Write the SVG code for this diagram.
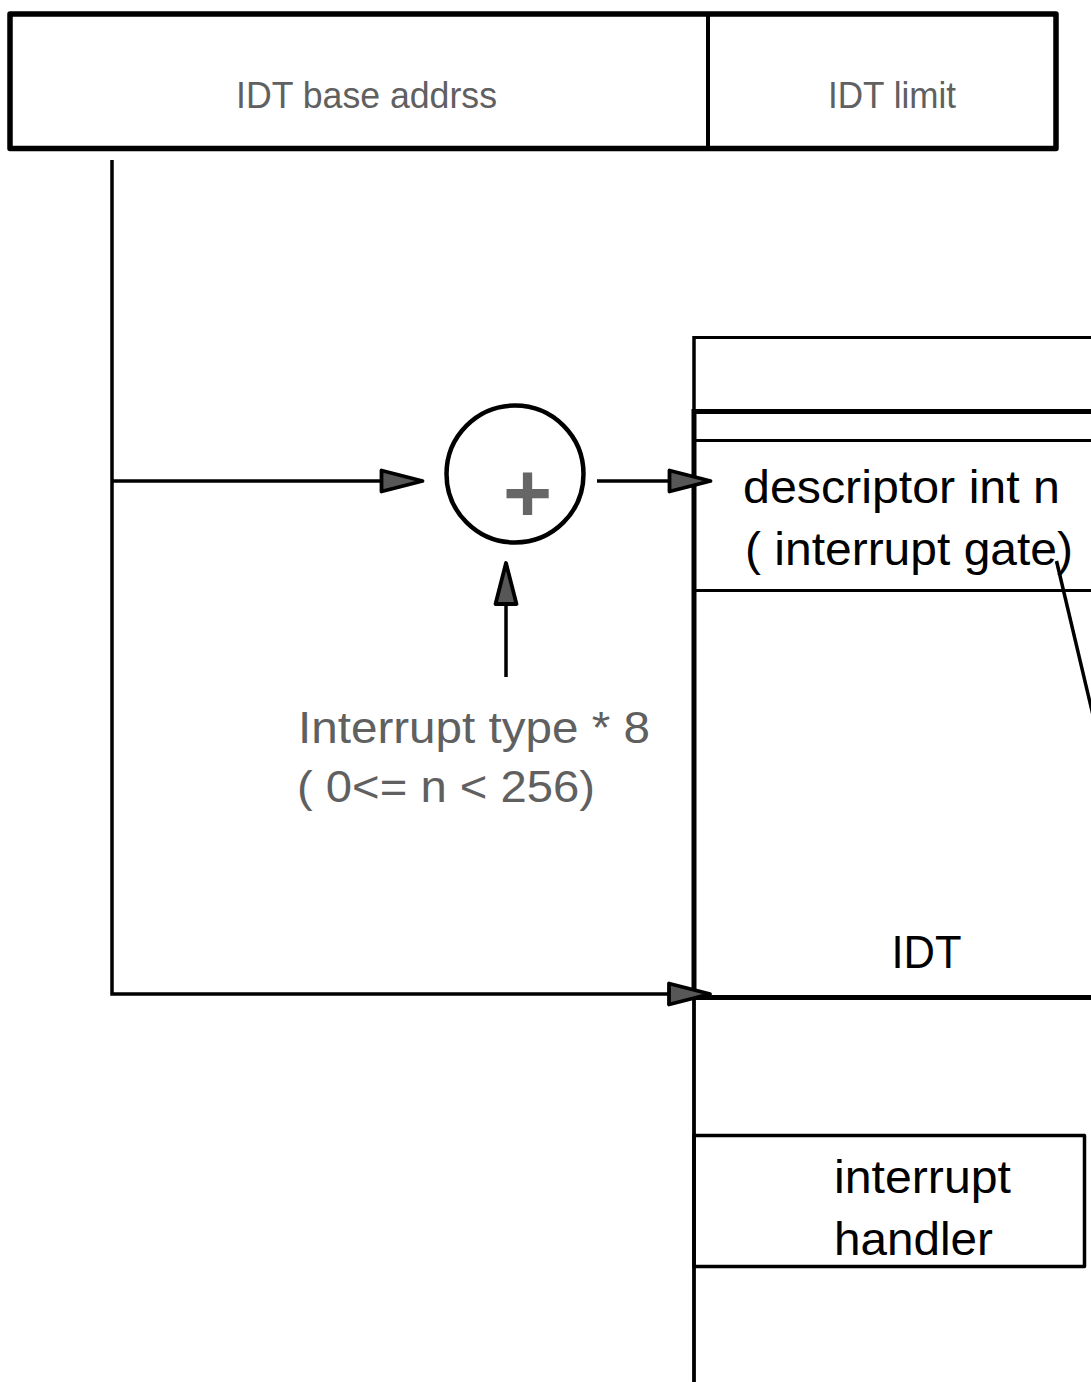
<svg xmlns="http://www.w3.org/2000/svg" width="1091" height="1382" viewBox="0 0 1091 1382">
  <style>
    .txt { font-family: "Liberation Sans", Arial, sans-serif; }
    .grey { fill: #606060; }
    .dark { fill: #000000; }
    .edge { fill: none; stroke: #000; stroke-linejoin: round; }
    .conn { fill: none; stroke: #000; stroke-width: 3.5; }
  </style>
  <defs>
    <marker id="head" markerUnits="userSpaceOnUse" viewBox="-4 -16 50 32" markerWidth="50" markerHeight="32" refX="41" refY="0" orient="auto">
      <path d="M0,-10.5 L41,0 L0,10.5 Z" fill="#575757" stroke="#000" stroke-width="3.8" stroke-linejoin="round"/>
    </marker>
  </defs>
  <rect width="1091" height="1382" fill="#fff"/>

  <!-- IDTR register -->
  <g id="idtr">
    <rect class="edge" x="10" y="14" width="1046" height="134.5" stroke-width="5.5"/>
    <line class="edge" x1="708" y1="14" x2="708" y2="148.5" stroke-width="4"/>
    <text class="txt grey" x="236" y="108" font-size="37" textLength="261" lengthAdjust="spacingAndGlyphs">IDT base addrss</text>
    <text class="txt grey" x="828" y="108" font-size="37" textLength="128" lengthAdjust="spacingAndGlyphs">IDT limit</text>
  </g>

  <!-- adder -->
  <g id="adder">
    <circle class="edge" cx="515" cy="474" r="68.5" stroke-width="4.5"/>
    <text class="txt" x="527.5" y="522" font-size="84" font-weight="bold" text-anchor="middle" fill="#666">+</text>
  </g>

  <!-- offset label -->
  <g id="offset">
    <text class="txt grey" x="298" y="743" font-size="45" textLength="352" lengthAdjust="spacingAndGlyphs">Interrupt type * 8</text>
    <text class="txt grey" x="297" y="802" font-size="45" textLength="298" lengthAdjust="spacingAndGlyphs">( 0&lt;= n &lt; 256)</text>
  </g>

  <!-- memory column with the IDT -->
  <g id="memory">
    <line class="edge" x1="694" y1="337.5" x2="1091" y2="337.5" stroke-width="3.2"/>
    <line class="edge" x1="694" y1="336" x2="694" y2="412" stroke-width="3.5"/>
    <line class="edge" x1="694" y1="997" x2="694" y2="1382" stroke-width="3.8"/>
  </g>

  <g id="idt">
    <line class="edge" x1="694" y1="411.5" x2="1091" y2="411.5" stroke-width="5"/>
    <line class="edge" x1="694" y1="409" x2="694" y2="1000" stroke-width="5"/>
    <line class="edge" x1="694" y1="997.5" x2="1091" y2="997.5" stroke-width="5"/>
    <text class="txt dark" x="891.5" y="968" font-size="47" textLength="70" lengthAdjust="spacingAndGlyphs">IDT</text>
  </g>

  <g id="descriptor">
    <line class="edge" x1="694" y1="440.5" x2="1091" y2="440.5" stroke-width="3.2"/>
    <line class="edge" x1="694" y1="590.5" x2="1091" y2="590.5" stroke-width="3.2"/>
    <text class="txt dark" x="743" y="503" font-size="47" textLength="317" lengthAdjust="spacingAndGlyphs">descriptor int n</text>
    <text class="txt dark" x="745" y="565" font-size="47" textLength="328" lengthAdjust="spacingAndGlyphs">( interrupt gate)</text>
  </g>

  <g id="handler">
    <rect class="edge" x="694" y="1135.5" width="390.5" height="131" stroke-width="3.5"/>
    <text class="txt dark" x="834" y="1193" font-size="47" textLength="177" lengthAdjust="spacingAndGlyphs">interrupt</text>
    <text class="txt dark" x="834" y="1255" font-size="47" textLength="159" lengthAdjust="spacingAndGlyphs">handler</text>
  </g>

  <!-- connectors -->
  <g id="connectors">
    <polyline class="conn" points="112,160 112,994 710,994" marker-end="url(#head)"/>
    <line class="conn" x1="112" y1="481" x2="422.5" y2="481" marker-end="url(#head)"/>
    <line class="conn" x1="597" y1="481" x2="710.5" y2="481" marker-end="url(#head)"/>
    <line class="conn" x1="506" y1="677" x2="506" y2="563" marker-end="url(#head)"/>
    <line class="conn" x1="1056.5" y1="561" x2="1101" y2="749" stroke-width="1.5"/>
  </g>
</svg>
